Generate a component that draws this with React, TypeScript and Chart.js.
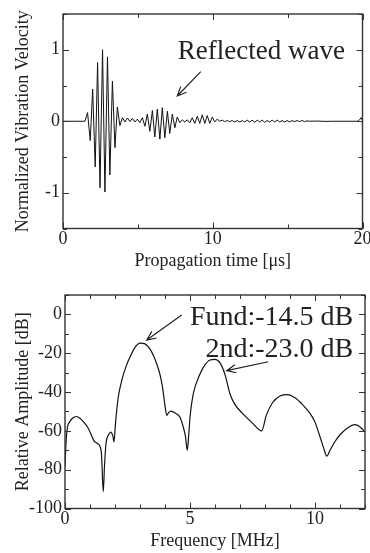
import React, { useEffect, useRef } from 'react';
import { Chart, registerables } from 'chart.js';

Chart.register(...registerables);

// ---- Top chart: normalized vibration velocity vs propagation time (µs)
const waveTime = [
  0, 1.47, 1.64, 1.82, 1.98, 2.15, 2.31, 2.47, 2.64, 2.8, 2.97, 3.13, 3.3, 3.47, 3.63, 3.8,
  3.97, 4.13, 4.3, 4.47, 4.63, 4.8, 4.97, 5.13, 5.3, 5.47, 5.63, 5.8, 5.97, 6.13, 6.3, 6.47,
  6.63, 6.8, 6.97, 7.13, 7.3, 7.47, 7.63, 7.8, 7.97, 8.13, 8.3, 8.47, 8.63, 8.8, 8.97, 9.13,
  9.3, 9.47, 9.63, 9.8, 9.97, 10.13, 10.3, 10.47, 10.63, 10.8, 10.97, 11.13, 11.3, 11.47,
  11.63, 11.8, 11.97, 12.13, 12.3, 12.47, 12.63, 12.8, 12.97, 13.13, 13.3, 13.47, 13.63,
  13.8, 13.97, 14.13, 14.3, 14.47, 14.63, 14.8, 14.97, 15.13, 15.3, 15.47, 15.63, 15.8,
  15.97, 16.13, 16.3, 16.47, 17.0, 17.5, 18.0, 19.7, 19.8, 19.9, 20.0,
];
const waveValue = [
  0, 0, 0.12, -0.27, 0.45, -0.64, 0.82, -0.93, 1.0, -0.99, 0.9, -0.75, 0.56, -0.37, 0.2, -0.06,
  0.05, -0.01, 0.045, -0.005, 0.04, -0.01, 0.03, -0.02, 0.05, -0.07, 0.1, -0.14, 0.15, -0.22,
  0.17, -0.25, 0.19, -0.23, 0.14, -0.17, 0.1, -0.09, 0.06, -0.02, 0.02, -0.01, 0.02, -0.02,
  0.05, -0.03, 0.07, -0.03, 0.09, -0.03, 0.08, -0.03, 0.06, -0.01, 0.03, 0.0, 0.015, -0.005,
  0.01, -0.005, 0.01, -0.01, 0.01, -0.01, 0.01, -0.01, 0.015, -0.01, 0.015, -0.015, 0.015,
  -0.01, 0.015, -0.015, 0.01, -0.01, 0.015, -0.01, 0.015, -0.01, 0.01, -0.01, 0.01, -0.01,
  0.01, -0.005, 0.01, -0.005, 0.01, -0.005, 0.005, 0, 0.003, -0.002, 0, 0, 0.02, 0.05, 0.01,
];
const topXTicks = [0, 10, 20];
const topYTicks = [-1, 0, 1];

// ---- Bottom chart: relative amplitude (dB) vs frequency (MHz)
const freq = [
  0, 0.05, 0.1, 0.18, 0.3, 0.45, 0.6, 0.75, 0.9, 1.05, 1.15, 1.3, 1.4, 1.46, 1.53, 1.58, 1.64,
  1.73, 1.83, 1.92, 1.96, 2.02, 2.13, 2.27, 2.45, 2.6, 2.8, 3.0, 3.2, 3.4, 3.55, 3.67, 3.8,
  3.9, 4.0, 4.07, 4.15, 4.23, 4.4, 4.6, 4.73, 4.82, 4.89, 4.95, 5.0, 5.13, 5.4, 5.6, 5.8, 6.0,
  6.2, 6.4, 6.6, 6.8, 7.1, 7.5, 7.87, 8.05, 8.3, 8.6, 8.9, 9.2, 9.5, 9.8, 10.0, 10.2, 10.35,
  10.47, 10.6, 10.8, 11.0, 11.3, 11.6, 11.85, 12.0,
];
const amplitude = [
  -78.5, -64, -58, -55.5, -53.5, -52.6, -53.5, -55.5, -58, -62, -65, -66.5, -68, -72, -91.4,
  -78, -66.5, -62.3, -60.6, -63, -65.7, -56, -42.7, -34, -26.5, -22, -17, -14.8, -15.2, -17.9,
  -21.5, -25.5, -31, -37.5, -47, -52, -50.5, -49.8, -50.8, -53, -58, -63, -70, -62, -53, -41,
  -30.7, -26, -23.5, -23.2, -25, -31, -41, -46.5, -51, -56, -60, -52, -45.5, -42, -41.3, -43,
  -46.5, -51, -55.5, -63, -69, -73, -70, -65.5, -62, -58.5, -56.8, -58.5, -60.6,
];
const bottomXTicks = [0, 5, 10];
const bottomYTicks = [0, -20, -40, -60, -80, -100];

const FONT = "'Liberation Serif', 'Times New Roman', serif";
const TEXT = '#222';

type Note = { text: string; x: number; y: number; size: number };
type Arrow = { x1: number; y1: number; x2: number; y2: number };

function framePlugin(xStep: number, xMajor: number, yStep: number, yMajor: number) {
  return {
    id: 'frameTicks',
    afterDatasetsDraw(chart: any) {
      const { ctx, chartArea: a, scales } = chart;
      const xs = scales.x;
      const ys = scales.y;
      ctx.save();
      ctx.strokeStyle = '#333';
      ctx.lineWidth = 1;
      ctx.beginPath();
      const nx = Math.round((xs.max - xs.min) / xStep);
      for (let i = 0; i <= nx; i++) {
        const v = xs.min + i * xStep;
        const px = Math.round(xs.getPixelForValue(v)) + 0.5;
        const major = Math.abs(v / xMajor - Math.round(v / xMajor)) < 1e-6;
        const len = major ? 6 : 4;
        ctx.moveTo(px, a.bottom);
        ctx.lineTo(px, a.bottom - len);
        ctx.moveTo(px, a.top);
        ctx.lineTo(px, a.top + len);
      }
      const ny = Math.round((ys.max - ys.min) / yStep);
      for (let i = 0; i <= ny; i++) {
        const v = ys.min + i * yStep;
        const py = Math.round(ys.getPixelForValue(v)) + 0.5;
        const major = Math.abs(v / yMajor - Math.round(v / yMajor)) < 1e-6;
        const len = major ? 6 : 4;
        ctx.moveTo(a.left, py);
        ctx.lineTo(a.left + len, py);
        ctx.moveTo(a.right, py);
        ctx.lineTo(a.right - len, py);
      }
      ctx.stroke();
      ctx.lineWidth = 1.4;
      ctx.strokeStyle = '#333';
      ctx.strokeRect(a.left, a.top, a.right - a.left, a.bottom - a.top);
      ctx.restore();
    },
  };
}

function notePlugin(notes: Note[], arrows: Arrow[]) {
  return {
    id: 'notes',
    afterDatasetsDraw(chart: any) {
      const { ctx, scales } = chart;
      const xs = scales.x;
      const ys = scales.y;
      ctx.save();
      ctx.fillStyle = TEXT;
      ctx.textAlign = 'right';
      ctx.textBaseline = 'alphabetic';
      notes.forEach((n) => {
        ctx.font = `${n.size}px ${FONT}`;
        ctx.fillText(n.text, xs.getPixelForValue(n.x), ys.getPixelForValue(n.y));
      });
      ctx.strokeStyle = TEXT;
      ctx.lineWidth = 1.2;
      arrows.forEach((ar) => {
        const x1 = xs.getPixelForValue(ar.x1);
        const y1 = ys.getPixelForValue(ar.y1);
        const x2 = xs.getPixelForValue(ar.x2);
        const y2 = ys.getPixelForValue(ar.y2);
        const ang = Math.atan2(y2 - y1, x2 - x1);
        const hl = 10;
        const spread = 0.42;
        ctx.beginPath();
        ctx.moveTo(x1, y1);
        ctx.lineTo(x2, y2);
        ctx.moveTo(x2 - hl * Math.cos(ang - spread), y2 - hl * Math.sin(ang - spread));
        ctx.lineTo(x2, y2);
        ctx.lineTo(x2 - hl * Math.cos(ang + spread), y2 - hl * Math.sin(ang + spread));
        ctx.stroke();
      });
      ctx.restore();
    },
  };
}

function makeConfig(p: {
  data: { x: number; y: number }[];
  xMin: number; xMax: number; yMin: number; yMax: number;
  xTicks: number[]; yTicks: number[];
  xTitle: string; yTitle: string;
  axisLeft: number; axisHeight: number;
  padTop: number; padRight: number; xTitlePad: number;
  monotone: boolean; lineWidth: number;
  plugins: any[];
}) {
  return {
    type: 'line' as const,
    data: {
      datasets: [
        {
          data: p.data,
          borderColor: '#111',
          borderWidth: p.lineWidth,
          pointRadius: 0,
          fill: false,
          tension: p.monotone ? 0.4 : 0,
          cubicInterpolationMode: p.monotone ? ('monotone' as const) : ('default' as const),
        },
      ],
    },
    options: {
      responsive: false,
      animation: false as const,
      events: [],
      layout: { padding: { top: p.padTop, right: p.padRight, left: 0, bottom: 0 } },
      plugins: { legend: { display: false }, tooltip: { enabled: false } },
      scales: {
        x: {
          type: 'linear' as const,
          min: p.xMin,
          max: p.xMax,
          grid: { display: false, drawTicks: false },
          border: { display: false },
          afterBuildTicks: (s: any) => { s.ticks = p.xTicks.map((v) => ({ value: v })); },
          afterFit: (s: any) => { s.height = p.axisHeight; s.paddingLeft = 0; s.paddingRight = 0; },
          ticks: {
            autoSkip: false,
            maxRotation: 0,
            padding: 0,
            color: TEXT,
            font: { family: FONT, size: 18 },
            callback: (v: any) => String(v),
          },
          title: {
            display: true,
            text: p.xTitle,
            color: TEXT,
            font: { family: FONT, size: 18 },
            padding: { top: 0, bottom: p.xTitlePad },
          },
        },
        y: {
          type: 'linear' as const,
          min: p.yMin,
          max: p.yMax,
          grid: { display: false, drawTicks: false },
          border: { display: false },
          afterBuildTicks: (s: any) => { s.ticks = p.yTicks.map((v) => ({ value: v })); },
          afterFit: (s: any) => { s.width = p.axisLeft; s.paddingTop = 0; s.paddingBottom = 0; },
          ticks: {
            autoSkip: false,
            padding: 3,
            color: TEXT,
            font: { family: FONT, size: 18 },
            callback: (v: any) => String(v),
          },
          title: {
            display: true,
            text: p.yTitle,
            color: TEXT,
            font: { family: FONT, size: 18 },
            padding: { top: 12.5, bottom: 0 },
          },
        },
      },
    },
    plugins: p.plugins,
  };
}

export default function App() {
  const topRef = useRef<HTMLCanvasElement>(null);
  const botRef = useRef<HTMLCanvasElement>(null);

  useEffect(() => {
    document.body.style.margin = '0';
    const top = new Chart(
      topRef.current as HTMLCanvasElement,
      makeConfig({
        data: waveTime.map((t, i) => ({ x: t, y: waveValue[i] })),
        xMin: 0, xMax: 20, yMin: -1.5, yMax: 1.5,
        xTicks: topXTicks, yTicks: topYTicks,
        xTitle: 'Propagation time [\u03bcs]',
        yTitle: 'Normalized Vibration Velocity',
        axisLeft: 63, axisHeight: 51.5, padTop: 14, padRight: 7.5, xTitlePad: 8.2,
        monotone: false, lineWidth: 1,
        plugins: [
          framePlugin(5, 10, 0.5, 1),
          notePlugin(
            [{ text: 'Reflected wave', x: 18.83, y: 0.866, size: 27 }],
            [{ x1: 9.2, y1: 0.693, x2: 7.63, y2: 0.353 }],
          ),
        ],
      }) as any,
    );
    const bottom = new Chart(
      botRef.current as HTMLCanvasElement,
      makeConfig({
        data: freq.map((f, i) => ({ x: f, y: amplitude[i] })),
        xMin: 0, xMax: 12, yMin: -100, yMax: 10,
        xTicks: bottomXTicks, yTicks: bottomYTicks,
        xTitle: 'Frequency [MHz]',
        yTitle: 'Relative Amplitude [dB]',
        axisLeft: 65, axisHeight: 44.5, padTop: 15, padRight: 5, xTitlePad: 1.2,
        monotone: true, lineWidth: 1.2,
        plugins: [
          framePlugin(1, 5, 10, 20),
          notePlugin(
            [
              { text: 'Fund:-14.5 dB', x: 11.53, y: -5.5, size: 28 },
              { text: '2nd:-23.0 dB', x: 11.53, y: -21.8, size: 28 },
            ],
            [
              { x1: 4.67, y1: -0.3, x2: 3.27, y2: -13.2 },
              { x1: 8.13, y1: -24.4, x2: 6.47, y2: -29 },
            ],
          ),
        ],
      }) as any,
    );
    return () => {
      top.destroy();
      bottom.destroy();
    };
  }, []);

  return (
    <div style={{ position: 'relative', width: 370, height: 553, background: '#fff', overflow: 'hidden' }}>
      <canvas ref={topRef} width={370} height={280} style={{ position: 'absolute', left: 0, top: 0 }} />
      <canvas ref={botRef} width={370} height={273} style={{ position: 'absolute', left: 0, top: 280 }} />
    </div>
  );
}
